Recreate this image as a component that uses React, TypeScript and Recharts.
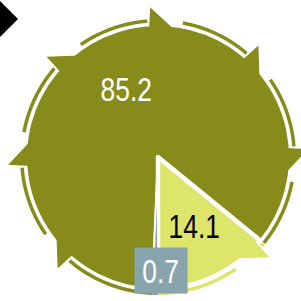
import React from 'react';
import { PieChart, Pie, Cell } from 'recharts';

const categories = ['A', 'B', 'C'];
const values = [85.2, 14.1, 0.7];
const labels = ['85.2', '14.1', '0.7'];
const colors = ['#878b19', '#dde56a', '#88a4ad'];
const labelColors = ['#ffffff', '#000000', '#ffffff'];

const data = categories.map((name, i) => ({ name, value: values[i], label: labels[i] }));

const SPIKE_START = -3;
const SPIKE_STEP = 45;
const FONT = "'Liberation Sans', Arial, sans-serif";

function polar(cx: number, cy: number, c: number, r: number): [number, number] {
  const a = (c * Math.PI) / 180;
  return [cx + r * Math.sin(a), cy - r * Math.cos(a)];
}

function SpikySector(props: any) {
  const { cx, cy, outerRadius, startAngle, endAngle, fill, index } = props;
  const c0 = 90 - startAngle;
  const c1 = 90 - endAngle;
  const R = outerRadius;
  const [sx, sy] = polar(cx, cy, c0, R);
  const [ex, ey] = polar(cx, cy, c1, R);
  const large = c1 - c0 > 180 ? 1 : 0;
  const sector = `M${cx},${cy}L${sx},${sy}A${R},${R} 0 ${large} 1 ${ex},${ey}Z`;

  const spikes: number[] = [];
  for (let k = -2; k < 20; k++) {
    const c = SPIKE_START + k * SPIKE_STEP;
    if (c - 1 >= c0 && c + 10.5 <= c1) spikes.push(c);
  }
  const gaps = spikes.map((s) => [s - 1, s + 13]);
  const inGap = (c: number) => gaps.some(([a, b]) => c >= a && c <= b);

  const ringR = R + 4.3;
  const segs: string[] = [];
  let cur: string[] = [];
  const step = 0.5;
  for (let c = c0; c <= c1 + 1e-6; c += step) {
    if (inGap(c)) {
      if (cur.length > 1) segs.push(cur.join(''));
      cur = [];
    } else {
      const [x, y] = polar(cx, cy, c, ringR);
      cur.push(`${cur.length ? 'L' : 'M'}${x.toFixed(2)},${y.toFixed(2)}`);
    }
  }
  if (cur.length > 1) segs.push(cur.join(''));

  const spikePolys = spikes.map((s) => {
    const t = polar(cx, cy, s, R + 18);
    const b1 = polar(cx, cy, s - 1, R - 4);
    const b2 = polar(cx, cy, s + 10.5, R - 4);
    return `${t[0]},${t[1]} ${b1[0]},${b1[1]} ${b2[0]},${b2[1]}`;
  });

  return (
    <g>
      {segs.map((d, i) => (
        <path key={'r' + i} d={d} fill="none" stroke={fill} strokeWidth={3.5} />
      ))}
      <path d={sector} fill={fill} stroke="#ffffff" strokeWidth={index === 1 ? 4.5 : 2} strokeLinejoin="round" />
      {spikePolys.map((p, i) => (
        <polygon key={'s' + i} points={p} fill={fill} />
      ))}
    </g>
  );
}

function renderLabel(props: any) {
  const { cx, cy, midAngle, outerRadius, index, percent } = props;
  const small = percent < 0.05;
  const r = small ? outerRadius * 0.86 : outerRadius * 0.57;
  const c = 90 - midAngle;
  const [x, y] = polar(cx, cy, c, r);
  const tx = small ? x + 5 : x + (index === 1 ? 4 : -1);
  return (
    <g key={'lbl' + index}>
      {small && <rect x={x - 21} y={y - 23} width={53} height={46} fill={colors[index]} />}
      <text
        x={0}
        y={0}
        transform={`translate(${tx},${y + 1}) scale(0.8,1)`}
        textAnchor="middle"
        dominantBaseline="central"
        fill={labelColors[index]}
        fontFamily={FONT}
        fontSize={33}
      >
        {labels[index]}
      </text>
    </g>
  );
}

export default function App() {
  return (
    <div style={{ position: 'absolute', left: 0, top: 0, width: 301, height: 301, background: '#ffffff', overflow: 'hidden' }}>
      <PieChart width={301} height={301} margin={{ top: 0, right: 0, bottom: 0, left: 0 }}>
        <Pie
          data={data}
          dataKey="value"
          nameKey="name"
          cx={158}
          cy={157}
          innerRadius={0}
          outerRadius={132}
          startAngle={-92.5}
          endAngle={-452.5}
          stroke="none"
          shape={SpikySector}
          label={renderLabel}
          labelLine={false}
          isAnimationActive={false}
        >
          {data.map((d, i) => (
            <Cell key={d.name} fill={colors[i]} />
          ))}
        </Pie>
      </PieChart>
      <svg width={40} height={45} style={{ position: 'absolute', left: 0, top: 0 }}>
        <polygon points="-2,-1 18,19 -2,39 -22,19" fill="#000000" />
      </svg>
    </div>
  );
}
